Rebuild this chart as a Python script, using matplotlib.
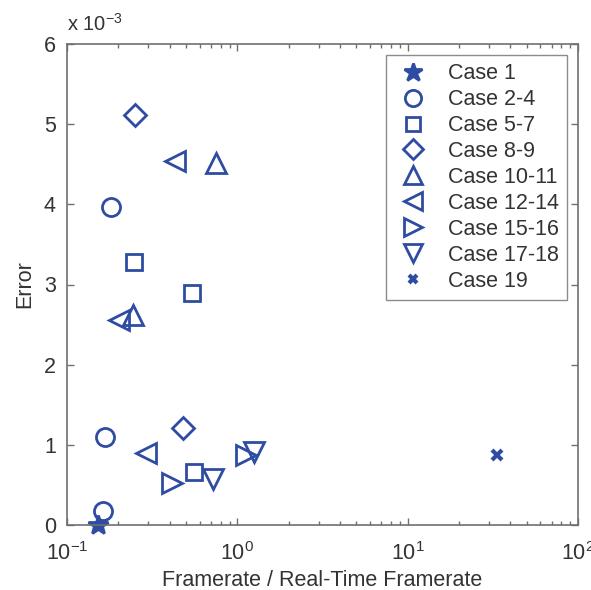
import matplotlib
matplotlib.use('Agg')
import matplotlib.pyplot as plt
from matplotlib.ticker import LogLocator, NullFormatter

plt.rcParams['font.family'] = ['Liberation Sans', 'DejaVu Sans']
plt.rcParams['mathtext.fontset'] = 'custom'
plt.rcParams['mathtext.rm'] = 'Liberation Sans'
plt.rcParams['mathtext.it'] = 'Liberation Sans'
plt.rcParams['mathtext.default'] = 'rm'

# data, error given in units of 1e-3
labels = ['Case 1', 'Case 2-4', 'Case 5-7', 'Case 8-9', 'Case 10-11',
          'Case 12-14', 'Case 15-16', 'Case 17-18', 'Case 19']
markers = ['*', 'o', 's', 'D', '^', '<', '>', 'v', 'x']
framerate = [
    [0.152],
    [0.167, 0.162, 0.181],
    [0.247, 0.540, 0.559],
    [0.251, 0.478],
    [0.75, 0.245],
    [0.43, 0.203, 0.29],
    [0.411, 1.12],
    [0.723, 1.25],
    [33.3],
]
err_e3 = [
    [0.0],
    [1.10, 0.18, 3.97],
    [3.28, 2.90, 0.665],
    [5.12, 1.205],
    [4.51, 2.62],
    [4.54, 2.56, 0.894],
    [0.53, 0.87],
    [0.57, 0.91],
    [0.87],
]
sizes = [15, 13, 11, 11, 14, 14, 14, 14, 7]

blue = '#2e4ca2'
txt = '#333333'
axc = '#707070'

fig = plt.figure(figsize=(5.91, 5.90), dpi=100)
ax = fig.add_axes([67 / 591, 65 / 590, 511 / 591, 481 / 590])

for lab, m, xs, ys, s in zip(labels, markers, framerate, err_e3, sizes):
    mew = 3 if m == 'x' else 2
    fill = blue if m == '*' else 'none'
    ax.plot(xs, ys, linestyle='none', marker=m, markersize=s,
            markerfacecolor=fill, markeredgecolor=blue, markeredgewidth=mew,
            label=lab, clip_on=False)

ax.set_xscale('log')
ax.set_xlim(0.1, 100)
ax.set_ylim(0, 6)
ax.set_yticks([0, 1, 2, 3, 4, 5, 6])
ax.xaxis.set_minor_locator(LogLocator(base=10, subs=range(2, 10)))
ax.xaxis.set_minor_formatter(NullFormatter())

ax.tick_params(which='both', direction='in', top=True, right=True,
               color=axc, labelcolor=txt, labelsize=15.5)
ax.tick_params(which='major', length=5, width=1)
ax.tick_params(which='minor', length=3, width=1)
ax.tick_params(axis='x', which='major', pad=12)
ax.tick_params(axis='y', which='major', pad=8)
for sp in ax.spines.values():
    sp.set_color(axc)
    sp.set_linewidth(1.2)

ax.set_xlabel('Framerate / Real-Time Framerate', fontsize=15.5, color=txt, labelpad=4)
ax.set_ylabel('Error', fontsize=15.5, color=txt, labelpad=6)
fig.text(67 / 591, 1 - 24 / 590, 'x 10$^{-3}$', fontsize=14.5, color=txt,
         ha='left', va='center')

leg = ax.legend(loc='upper right', bbox_to_anchor=(567 / 591, 1 - 55 / 590),
                bbox_transform=fig.transFigure, fontsize=15.5, frameon=True,
                fancybox=False, borderpad=0.38, labelspacing=0.23,
                handletextpad=0.7, handlelength=1.8, borderaxespad=0,
                markerscale=0.9)
leg.get_frame().set_edgecolor(axc)
leg.get_frame().set_linewidth(1.0)
for t in leg.get_texts():
    t.set_color(txt)

fig.savefig('out.png', dpi=100)
